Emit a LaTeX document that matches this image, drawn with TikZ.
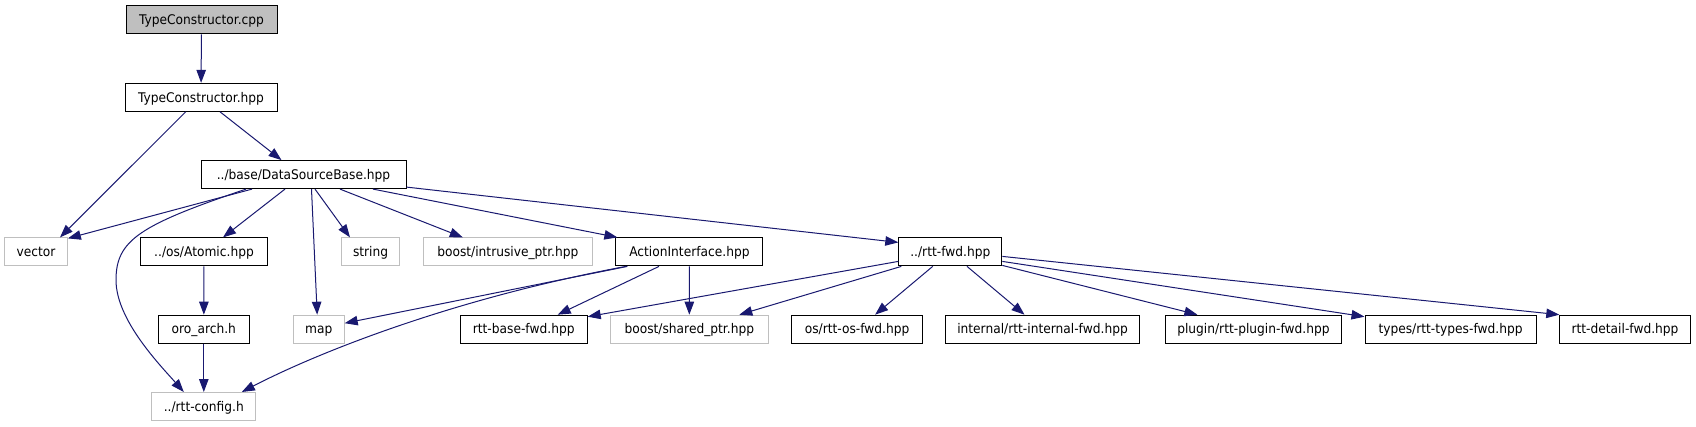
\documentclass[tikz,border=0pt]{standalone}
\usepackage{fontspec}
\setmainfont{DejaVu Sans}[FakeStretch=0.92]
\usetikzlibrary{arrows.meta}
\definecolor{edgeblue}{HTML}{191970}
\definecolor{nodegray}{HTML}{BFBFBF}
\begin{document}
\begin{tikzpicture}[x=1pt,y=-1pt,
  box/.style={draw=black, line width=1pt, minimum height=28pt, inner sep=0pt,
    text height=9.5pt, text depth=0pt,
    font=\fontsize{13.3}{15}\selectfont, text=black},
  ext/.style={box, draw=nodegray},
  dep/.style={draw=edgeblue, line width=1pt, -{Triangle[length=13pt,width=9.5pt]}, fill=none},
]
\useasboundingbox (0,0) rectangle (1696,427);
\fill[white] (0,0) rectangle (1696,427);
% row 1-3
\node[box, fill=nodegray, minimum width=151pt] (cpp) at (201.5,20) {TypeConstructor.cpp};
\node[box, minimum width=152pt] (hpp) at (201,97.3) {TypeConstructor.hpp};
\node[box, minimum width=205pt] (dsb) at (303.5,174.6) {../base/DataSourceBase.hpp};
% row 4
\node[ext, minimum width=62.7pt] (vector) at (36,251.9) {vector};
\node[box, minimum width=126.3pt] (atomic) at (204,251.9) {../os/Atomic.hpp};
\node[ext, minimum width=58.6pt] (string) at (370.6,251.9) {string};
\node[ext, minimum width=168.4pt] (intrusive) at (507.8,251.9) {boost/intrusive\_ptr.hpp};
\node[box, minimum width=147pt] (action) at (689.4,251.9) {ActionInterface.hpp};
\node[box, minimum width=103pt] (rttfwd) at (950.3,251.9) {../rtt-fwd.hpp};
% row 5
\node[box, minimum width=90.7pt] (oro) at (203.8,329.2) {oro\_arch.h};
\node[ext, minimum width=51pt] (map) at (318.7,329.2) {map};
\node[box, minimum width=127pt] (basefwd) at (523.7,329.2) {rtt-base-fwd.hpp};
\node[ext, minimum width=158.5pt] (shared) at (689.3,329.2) {boost/shared\_ptr.hpp};
\node[box, minimum width=130.5pt] (osfwd) at (857.1,329.2) {os/rtt-os-fwd.hpp};
\node[box, minimum width=193.6pt] (internal) at (1042.5,329.2) {internal/rtt-internal-fwd.hpp};
\node[box, minimum width=176pt] (plugin) at (1253.4,329.2) {plugin/rtt-plugin-fwd.hpp};
\node[box, minimum width=171pt] (types) at (1450.5,329.2) {types/rtt-types-fwd.hpp};
\node[box, minimum width=130.4pt] (detail) at (1625,329.2) {rtt-detail-fwd.hpp};
% row 6
\node[ext, minimum width=103.7pt] (config) at (203.8,406.5) {../rtt-config.h};
% edges
\draw[dep] (cpp) -- (hpp);
\draw[dep] ([xshift=-15.3pt]hpp.south) -- ([xshift=24pt]vector.north);
\draw[dep] ([xshift=19pt]hpp.south) -- ([xshift=-22pt]dsb.north);
\draw[dep] ([xshift=-51.5pt]dsb.south) -- ([yshift=-1pt]vector.north east);
\draw[dep] ([xshift=-57.5pt]dsb.south) .. controls (140,225) and (116,240) .. (116,280)
  .. controls (116,320) and (160,365) .. ([xshift=-20pt]config.north);
\draw[dep] ([xshift=-18.5pt]dsb.south) -- ([xshift=19pt]atomic.north);
\draw[dep] ([xshift=8pt]dsb.south) -- ([xshift=-1.5pt]map.north);
\draw[dep] ([xshift=11.5pt]dsb.south) -- ([xshift=-20.6pt]string.north);
\draw[dep] ([xshift=36.5pt]dsb.south) -- ([xshift=-45pt]intrusive.north);
\draw[dep] ([xshift=69.5pt]dsb.south) -- ([xshift=2pt]action.north west);
\draw[dep] ([yshift=2pt]dsb.south east) -- ([yshift=-5pt]rttfwd.north west);
\draw[dep] (atomic) -- (oro);
\draw[dep] (oro) -- (config);
\draw[dep] ([xshift=12pt]action.south west) -- ([yshift=6pt]map.east);
\draw[dep] ([xshift=10.5pt]action.south west) .. controls (446.7,300) and (313,355) .. ([xshift=38pt]config.north);
\draw[dep] ([xshift=-30.4pt]action.south) -- ([xshift=34pt]basefwd.north);
\draw[dep] (action) -- (shared);
\draw[dep] ([yshift=5pt]rttfwd.south west) -- ([yshift=-2pt]basefwd.north east);
\draw[dep] ([xshift=3pt]rttfwd.south west) -- ([xshift=50pt]shared.north);
\draw[dep] ([xshift=-17.6pt]rttfwd.south) -- ([xshift=18pt]osfwd.north);
\draw[dep] ([xshift=16.7pt]rttfwd.south) -- ([xshift=-18pt]internal.north);
\draw[dep] ([yshift=1pt]rttfwd.south east) -- ([xshift=-56pt]plugin.north);
\draw[dep] ([yshift=5pt]rttfwd.south east) -- ([yshift=-2pt]types.north west);
\draw[dep] ([yshift=10pt]rttfwd.south east) -- (detail.north west);
\end{tikzpicture}
\end{document}
